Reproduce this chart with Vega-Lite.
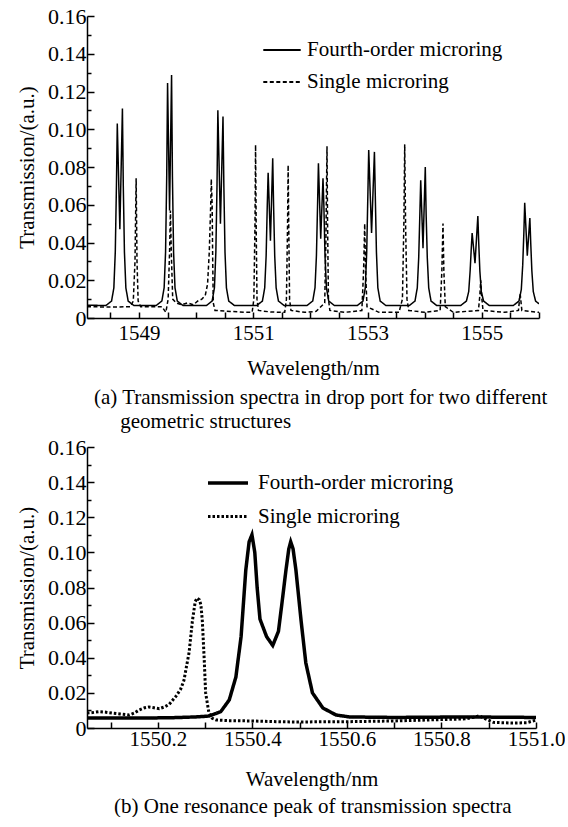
{
 "$schema": "https://vega.github.io/schema/vega-lite/v6.json",
 "padding": {"left": 16, "top": 5, "right": 0, "bottom": 0},
 "autosize": {"type": "pad"},
 "spacing": 4,
 "resolve": {"scale": {"strokeDash": "independent", "strokeWidth": "independent"}, "legend": {"strokeDash": "independent", "strokeWidth": "independent"}},
 "config": {
  "font": "Liberation Serif, Times New Roman, serif",
  "view": {"stroke": null},
  "axis": {"domainColor": "black", "domainWidth": 1.5, "tickColor": "black", "tickWidth": 1.5, "labelColor": "black", "titleColor": "black", "labelFont": "Liberation Serif, Times New Roman, serif", "titleFont": "Liberation Serif, Times New Roman, serif", "labelFontSize": 21, "titleFontSize": 21, "titleFontWeight": "normal", "grid": false, "labelOverlap": false, "labelBound": false, "labelFlush": false},
  "legend": {"labelFont": "Liberation Serif, Times New Roman, serif", "labelFontSize": 21, "labelColor": "black", "labelLimit": 0, "symbolType": "stroke", "symbolStrokeColor": "black", "orient": "none", "title": null},
  "title": {"font": "Liberation Serif, Times New Roman, serif", "fontSize": 21, "fontWeight": "normal", "color": "black", "orient": "bottom", "anchor": "start", "lineHeight": 24, "frame": "group"}
 },
 "vconcat": [
  {
   "width": 452,
   "height": 302,
   "title": {"text": ["(a) Transmission spectra in drop port for two different", "\u200b\u00a0\u00a0\u00a0\u00a0\u00a0geometric structures"], "dx": 7, "offset": 9},
   "data": {"values": [
    {"wl": 1548.09, "t": 0.0068, "series": "Fourth-order microring"},
    {"wl": 1548.42, "t": 0.0066, "series": "Fourth-order microring"},
    {"wl": 1548.52, "t": 0.009, "series": "Fourth-order microring"},
    {"wl": 1548.56, "t": 0.016, "series": "Fourth-order microring"},
    {"wl": 1548.585, "t": 0.035, "series": "Fourth-order microring"},
    {"wl": 1548.605, "t": 0.07, "series": "Fourth-order microring"},
    {"wl": 1548.62, "t": 0.103, "series": "Fourth-order microring"},
    {"wl": 1548.665, "t": 0.047, "series": "Fourth-order microring"},
    {"wl": 1548.71, "t": 0.111, "series": "Fourth-order microring"},
    {"wl": 1548.725, "t": 0.07, "series": "Fourth-order microring"},
    {"wl": 1548.745, "t": 0.035, "series": "Fourth-order microring"},
    {"wl": 1548.77, "t": 0.016, "series": "Fourth-order microring"},
    {"wl": 1548.81, "t": 0.009, "series": "Fourth-order microring"},
    {"wl": 1548.91, "t": 0.0066, "series": "Fourth-order microring"},
    {"wl": 1549.30, "t": 0.0066, "series": "Fourth-order microring"},
    {"wl": 1549.40, "t": 0.009, "series": "Fourth-order microring"},
    {"wl": 1549.44, "t": 0.016, "series": "Fourth-order microring"},
    {"wl": 1549.465, "t": 0.035, "series": "Fourth-order microring"},
    {"wl": 1549.485, "t": 0.075, "series": "Fourth-order microring"},
    {"wl": 1549.50, "t": 0.1245, "series": "Fourth-order microring"},
    {"wl": 1549.535, "t": 0.057, "series": "Fourth-order microring"},
    {"wl": 1549.57, "t": 0.1287, "series": "Fourth-order microring"},
    {"wl": 1549.585, "t": 0.075, "series": "Fourth-order microring"},
    {"wl": 1549.605, "t": 0.035, "series": "Fourth-order microring"},
    {"wl": 1549.63, "t": 0.016, "series": "Fourth-order microring"},
    {"wl": 1549.67, "t": 0.009, "series": "Fourth-order microring"},
    {"wl": 1549.77, "t": 0.0066, "series": "Fourth-order microring"},
    {"wl": 1550.18, "t": 0.0066, "series": "Fourth-order microring"},
    {"wl": 1550.28, "t": 0.009, "series": "Fourth-order microring"},
    {"wl": 1550.32, "t": 0.016, "series": "Fourth-order microring"},
    {"wl": 1550.345, "t": 0.035, "series": "Fourth-order microring"},
    {"wl": 1550.365, "t": 0.07, "series": "Fourth-order microring"},
    {"wl": 1550.38, "t": 0.110, "series": "Fourth-order microring"},
    {"wl": 1550.425, "t": 0.050, "series": "Fourth-order microring"},
    {"wl": 1550.47, "t": 0.1067, "series": "Fourth-order microring"},
    {"wl": 1550.485, "t": 0.07, "series": "Fourth-order microring"},
    {"wl": 1550.505, "t": 0.035, "series": "Fourth-order microring"},
    {"wl": 1550.53, "t": 0.016, "series": "Fourth-order microring"},
    {"wl": 1550.57, "t": 0.009, "series": "Fourth-order microring"},
    {"wl": 1550.67, "t": 0.0066, "series": "Fourth-order microring"},
    {"wl": 1551.06, "t": 0.0066, "series": "Fourth-order microring"},
    {"wl": 1551.16, "t": 0.009, "series": "Fourth-order microring"},
    {"wl": 1551.20, "t": 0.016, "series": "Fourth-order microring"},
    {"wl": 1551.225, "t": 0.033, "series": "Fourth-order microring"},
    {"wl": 1551.245, "t": 0.06, "series": "Fourth-order microring"},
    {"wl": 1551.26, "t": 0.077, "series": "Fourth-order microring"},
    {"wl": 1551.30, "t": 0.041, "series": "Fourth-order microring"},
    {"wl": 1551.34, "t": 0.0846, "series": "Fourth-order microring"},
    {"wl": 1551.355, "t": 0.06, "series": "Fourth-order microring"},
    {"wl": 1551.375, "t": 0.033, "series": "Fourth-order microring"},
    {"wl": 1551.40, "t": 0.016, "series": "Fourth-order microring"},
    {"wl": 1551.44, "t": 0.009, "series": "Fourth-order microring"},
    {"wl": 1551.54, "t": 0.0066, "series": "Fourth-order microring"},
    {"wl": 1551.94, "t": 0.0066, "series": "Fourth-order microring"},
    {"wl": 1552.04, "t": 0.009, "series": "Fourth-order microring"},
    {"wl": 1552.08, "t": 0.016, "series": "Fourth-order microring"},
    {"wl": 1552.105, "t": 0.033, "series": "Fourth-order microring"},
    {"wl": 1552.125, "t": 0.06, "series": "Fourth-order microring"},
    {"wl": 1552.14, "t": 0.082, "series": "Fourth-order microring"},
    {"wl": 1552.18, "t": 0.042, "series": "Fourth-order microring"},
    {"wl": 1552.22, "t": 0.074, "series": "Fourth-order microring"},
    {"wl": 1552.235, "t": 0.06, "series": "Fourth-order microring"},
    {"wl": 1552.255, "t": 0.033, "series": "Fourth-order microring"},
    {"wl": 1552.28, "t": 0.016, "series": "Fourth-order microring"},
    {"wl": 1552.32, "t": 0.009, "series": "Fourth-order microring"},
    {"wl": 1552.42, "t": 0.0066, "series": "Fourth-order microring"},
    {"wl": 1552.82, "t": 0.0066, "series": "Fourth-order microring"},
    {"wl": 1552.92, "t": 0.009, "series": "Fourth-order microring"},
    {"wl": 1552.96, "t": 0.016, "series": "Fourth-order microring"},
    {"wl": 1552.985, "t": 0.035, "series": "Fourth-order microring"},
    {"wl": 1553.005, "t": 0.065, "series": "Fourth-order microring"},
    {"wl": 1553.02, "t": 0.089, "series": "Fourth-order microring"},
    {"wl": 1553.07, "t": 0.045, "series": "Fourth-order microring"},
    {"wl": 1553.12, "t": 0.088, "series": "Fourth-order microring"},
    {"wl": 1553.135, "t": 0.065, "series": "Fourth-order microring"},
    {"wl": 1553.155, "t": 0.035, "series": "Fourth-order microring"},
    {"wl": 1553.18, "t": 0.016, "series": "Fourth-order microring"},
    {"wl": 1553.22, "t": 0.009, "series": "Fourth-order microring"},
    {"wl": 1553.32, "t": 0.0066, "series": "Fourth-order microring"},
    {"wl": 1553.73, "t": 0.0066, "series": "Fourth-order microring"},
    {"wl": 1553.83, "t": 0.009, "series": "Fourth-order microring"},
    {"wl": 1553.87, "t": 0.016, "series": "Fourth-order microring"},
    {"wl": 1553.895, "t": 0.032, "series": "Fourth-order microring"},
    {"wl": 1553.915, "t": 0.055, "series": "Fourth-order microring"},
    {"wl": 1553.93, "t": 0.073, "series": "Fourth-order microring"},
    {"wl": 1553.97, "t": 0.037, "series": "Fourth-order microring"},
    {"wl": 1554.01, "t": 0.080, "series": "Fourth-order microring"},
    {"wl": 1554.025, "t": 0.055, "series": "Fourth-order microring"},
    {"wl": 1554.045, "t": 0.032, "series": "Fourth-order microring"},
    {"wl": 1554.07, "t": 0.016, "series": "Fourth-order microring"},
    {"wl": 1554.11, "t": 0.009, "series": "Fourth-order microring"},
    {"wl": 1554.21, "t": 0.0066, "series": "Fourth-order microring"},
    {"wl": 1554.63, "t": 0.0066, "series": "Fourth-order microring"},
    {"wl": 1554.73, "t": 0.009, "series": "Fourth-order microring"},
    {"wl": 1554.77, "t": 0.014, "series": "Fourth-order microring"},
    {"wl": 1554.795, "t": 0.025, "series": "Fourth-order microring"},
    {"wl": 1554.815, "t": 0.037, "series": "Fourth-order microring"},
    {"wl": 1554.83, "t": 0.045, "series": "Fourth-order microring"},
    {"wl": 1554.88, "t": 0.029, "series": "Fourth-order microring"},
    {"wl": 1554.93, "t": 0.054, "series": "Fourth-order microring"},
    {"wl": 1554.945, "t": 0.04, "series": "Fourth-order microring"},
    {"wl": 1554.965, "t": 0.025, "series": "Fourth-order microring"},
    {"wl": 1554.99, "t": 0.014, "series": "Fourth-order microring"},
    {"wl": 1555.03, "t": 0.009, "series": "Fourth-order microring"},
    {"wl": 1555.13, "t": 0.0066, "series": "Fourth-order microring"},
    {"wl": 1555.55, "t": 0.0066, "series": "Fourth-order microring"},
    {"wl": 1555.65, "t": 0.009, "series": "Fourth-order microring"},
    {"wl": 1555.69, "t": 0.015, "series": "Fourth-order microring"},
    {"wl": 1555.715, "t": 0.028, "series": "Fourth-order microring"},
    {"wl": 1555.735, "t": 0.045, "series": "Fourth-order microring"},
    {"wl": 1555.75, "t": 0.061, "series": "Fourth-order microring"},
    {"wl": 1555.795, "t": 0.033, "series": "Fourth-order microring"},
    {"wl": 1555.84, "t": 0.053, "series": "Fourth-order microring"},
    {"wl": 1555.855, "t": 0.04, "series": "Fourth-order microring"},
    {"wl": 1555.875, "t": 0.025, "series": "Fourth-order microring"},
    {"wl": 1555.90, "t": 0.014, "series": "Fourth-order microring"},
    {"wl": 1555.94, "t": 0.009, "series": "Fourth-order microring"},
    {"wl": 1556.0, "t": 0.0075, "series": "Fourth-order microring"},
    {"wl": 1548.09, "t": 0.006, "series": "Single microring"},
    {"wl": 1548.5, "t": 0.0058, "series": "Single microring"},
    {"wl": 1548.85, "t": 0.006, "series": "Single microring"},
    {"wl": 1548.90, "t": 0.009, "series": "Single microring"},
    {"wl": 1548.93, "t": 0.03, "series": "Single microring"},
    {"wl": 1548.95, "t": 0.074, "series": "Single microring"},
    {"wl": 1548.965, "t": 0.03, "series": "Single microring"},
    {"wl": 1548.985, "t": 0.009, "series": "Single microring"},
    {"wl": 1549.03, "t": 0.006, "series": "Single microring"},
    {"wl": 1549.40, "t": 0.006, "series": "Single microring"},
    {"wl": 1549.47, "t": 0.003, "series": "Single microring"},
    {"wl": 1549.51, "t": 0.01, "series": "Single microring"},
    {"wl": 1549.535, "t": 0.035, "series": "Single microring"},
    {"wl": 1549.55, "t": 0.057, "series": "Single microring"},
    {"wl": 1549.565, "t": 0.035, "series": "Single microring"},
    {"wl": 1549.59, "t": 0.01, "series": "Single microring"},
    {"wl": 1549.65, "t": 0.008, "series": "Single microring"},
    {"wl": 1549.75, "t": 0.007, "series": "Single microring"},
    {"wl": 1549.85, "t": 0.008, "series": "Single microring"},
    {"wl": 1549.95, "t": 0.007, "series": "Single microring"},
    {"wl": 1550.03, "t": 0.009, "series": "Single microring"},
    {"wl": 1550.10, "t": 0.010, "series": "Single microring"},
    {"wl": 1550.16, "t": 0.012, "series": "Single microring"},
    {"wl": 1550.20, "t": 0.018, "series": "Single microring"},
    {"wl": 1550.23, "t": 0.035, "series": "Single microring"},
    {"wl": 1550.255, "t": 0.06, "series": "Single microring"},
    {"wl": 1550.265, "t": 0.0736, "series": "Single microring"},
    {"wl": 1550.28, "t": 0.06, "series": "Single microring"},
    {"wl": 1550.29, "t": 0.03, "series": "Single microring"},
    {"wl": 1550.30, "t": 0.008, "series": "Single microring"},
    {"wl": 1550.33, "t": 0.004, "series": "Single microring"},
    {"wl": 1550.6, "t": 0.0035, "series": "Single microring"},
    {"wl": 1550.85, "t": 0.003, "series": "Single microring"},
    {"wl": 1550.98, "t": 0.003, "series": "Single microring"},
    {"wl": 1551.01, "t": 0.01, "series": "Single microring"},
    {"wl": 1551.03, "t": 0.05, "series": "Single microring"},
    {"wl": 1551.04, "t": 0.0917, "series": "Single microring"},
    {"wl": 1551.05, "t": 0.05, "series": "Single microring"},
    {"wl": 1551.065, "t": 0.01, "series": "Single microring"},
    {"wl": 1551.09, "t": 0.004, "series": "Single microring"},
    {"wl": 1551.3, "t": 0.0032, "series": "Single microring"},
    {"wl": 1551.55, "t": 0.003, "series": "Single microring"},
    {"wl": 1551.58, "t": 0.01, "series": "Single microring"},
    {"wl": 1551.60, "t": 0.05, "series": "Single microring"},
    {"wl": 1551.61, "t": 0.081, "series": "Single microring"},
    {"wl": 1551.62, "t": 0.05, "series": "Single microring"},
    {"wl": 1551.635, "t": 0.01, "series": "Single microring"},
    {"wl": 1551.66, "t": 0.004, "series": "Single microring"},
    {"wl": 1551.9, "t": 0.003, "series": "Single microring"},
    {"wl": 1552.10, "t": 0.0035, "series": "Single microring"},
    {"wl": 1552.25, "t": 0.008, "series": "Single microring"},
    {"wl": 1552.27, "t": 0.04, "series": "Single microring"},
    {"wl": 1552.29, "t": 0.091, "series": "Single microring"},
    {"wl": 1552.30, "t": 0.05, "series": "Single microring"},
    {"wl": 1552.315, "t": 0.01, "series": "Single microring"},
    {"wl": 1552.34, "t": 0.004, "series": "Single microring"},
    {"wl": 1552.6, "t": 0.003, "series": "Single microring"},
    {"wl": 1552.90, "t": 0.004, "series": "Single microring"},
    {"wl": 1552.93, "t": 0.025, "series": "Single microring"},
    {"wl": 1552.95, "t": 0.050, "series": "Single microring"},
    {"wl": 1552.965, "t": 0.025, "series": "Single microring"},
    {"wl": 1552.99, "t": 0.006, "series": "Single microring"},
    {"wl": 1553.2, "t": 0.003, "series": "Single microring"},
    {"wl": 1553.55, "t": 0.003, "series": "Single microring"},
    {"wl": 1553.61, "t": 0.01, "series": "Single microring"},
    {"wl": 1553.635, "t": 0.05, "series": "Single microring"},
    {"wl": 1553.65, "t": 0.092, "series": "Single microring"},
    {"wl": 1553.665, "t": 0.05, "series": "Single microring"},
    {"wl": 1553.69, "t": 0.01, "series": "Single microring"},
    {"wl": 1553.72, "t": 0.004, "series": "Single microring"},
    {"wl": 1554.0, "t": 0.003, "series": "Single microring"},
    {"wl": 1554.27, "t": 0.004, "series": "Single microring"},
    {"wl": 1554.30, "t": 0.025, "series": "Single microring"},
    {"wl": 1554.32, "t": 0.050, "series": "Single microring"},
    {"wl": 1554.335, "t": 0.025, "series": "Single microring"},
    {"wl": 1554.36, "t": 0.006, "series": "Single microring"},
    {"wl": 1554.5, "t": 0.003, "series": "Single microring"},
    {"wl": 1554.94, "t": 0.004, "series": "Single microring"},
    {"wl": 1554.965, "t": 0.012, "series": "Single microring"},
    {"wl": 1554.98, "t": 0.02, "series": "Single microring"},
    {"wl": 1554.995, "t": 0.012, "series": "Single microring"},
    {"wl": 1555.02, "t": 0.004, "series": "Single microring"},
    {"wl": 1555.4, "t": 0.003, "series": "Single microring"},
    {"wl": 1555.64, "t": 0.004, "series": "Single microring"},
    {"wl": 1555.67, "t": 0.013, "series": "Single microring"},
    {"wl": 1555.70, "t": 0.004, "series": "Single microring"},
    {"wl": 1556.0, "t": 0.003, "series": "Single microring"}
   ]},
   "mark": {"type": "line", "color": "black", "strokeWidth": 1.5, "clip": true},
   "encoding": {
    "x": {"field": "wl", "type": "quantitative", "scale": {"domain": [1548.09, 1556], "nice": false, "zero": false},
     "axis": {"title": "Wavelength/nm", "values": [1548.5, 1549, 1549.5, 1550, 1550.5, 1551, 1551.5, 1552, 1552.5, 1553, 1553.5, 1554, 1554.5, 1555, 1555.5, 1556],
      "labelExpr": "datum.value % 2 == 1 ? format(datum.value, 'd') : ''", "tickSize": -6, "labelPadding": 10, "titlePadding": 14}},
    "y": {"field": "t", "type": "quantitative", "scale": {"domain": [0, 0.16], "nice": false},
     "axis": {"title": "Transmission/(a.u.)", "values": [0, 0.01, 0.02, 0.03, 0.04, 0.05, 0.06, 0.07, 0.08, 0.09, 0.1, 0.11, 0.12, 0.13, 0.14, 0.15, 0.16],
      "labelExpr": "round(datum.value*100) % 2 == 0 ? (datum.value == 0 ? '0' : format(datum.value, '.2f')) : ''",
      "tickSize": {"condition": {"test": "round(datum.value*100) % 2 == 0", "value": -7}, "value": -4},
      "labelPadding": 8, "titlePadding": 10, "labelFontSize": 22}},
    "strokeDash": {"field": "series", "type": "nominal",
     "scale": {"domain": ["Fourth-order microring", "Single microring"], "range": [[1, 0], [4, 2.5]]},
     "legend": {"legendX": 175, "legendY": 14, "symbolSize": 1400, "symbolStrokeWidth": 1.8, "labelOffset": 5}}
   }
  },
  {
   "width": 449,
   "height": 281,
   "title": {"text": "(b) One resonance peak of transmission spectra", "dx": 27, "offset": 7},
   "data": {"values": [
    {"wl": 1550.05, "t": 0.0057, "series": "Fourth-order microring"},
    {"wl": 1550.15, "t": 0.0057, "series": "Fourth-order microring"},
    {"wl": 1550.224, "t": 0.0058, "series": "Fourth-order microring"},
    {"wl": 1550.28, "t": 0.0063, "series": "Fourth-order microring"},
    {"wl": 1550.308, "t": 0.0068, "series": "Fourth-order microring"},
    {"wl": 1550.333, "t": 0.0093, "series": "Fourth-order microring"},
    {"wl": 1550.351, "t": 0.016, "series": "Fourth-order microring"},
    {"wl": 1550.365, "t": 0.029, "series": "Fourth-order microring"},
    {"wl": 1550.376, "t": 0.052, "series": "Fourth-order microring"},
    {"wl": 1550.386, "t": 0.090, "series": "Fourth-order microring"},
    {"wl": 1550.393, "t": 0.106, "series": "Fourth-order microring"},
    {"wl": 1550.399, "t": 0.110, "series": "Fourth-order microring"},
    {"wl": 1550.405, "t": 0.100, "series": "Fourth-order microring"},
    {"wl": 1550.41, "t": 0.080, "series": "Fourth-order microring"},
    {"wl": 1550.416, "t": 0.062, "series": "Fourth-order microring"},
    {"wl": 1550.43, "t": 0.052, "series": "Fourth-order microring"},
    {"wl": 1550.443, "t": 0.047, "series": "Fourth-order microring"},
    {"wl": 1550.455, "t": 0.055, "series": "Fourth-order microring"},
    {"wl": 1550.462, "t": 0.070, "series": "Fourth-order microring"},
    {"wl": 1550.471, "t": 0.090, "series": "Fourth-order microring"},
    {"wl": 1550.477, "t": 0.102, "series": "Fourth-order microring"},
    {"wl": 1550.481, "t": 0.106, "series": "Fourth-order microring"},
    {"wl": 1550.486, "t": 0.102, "series": "Fourth-order microring"},
    {"wl": 1550.492, "t": 0.090, "series": "Fourth-order microring"},
    {"wl": 1550.503, "t": 0.061, "series": "Fourth-order microring"},
    {"wl": 1550.513, "t": 0.037, "series": "Fourth-order microring"},
    {"wl": 1550.527, "t": 0.020, "series": "Fourth-order microring"},
    {"wl": 1550.549, "t": 0.0114, "series": "Fourth-order microring"},
    {"wl": 1550.577, "t": 0.0074, "series": "Fourth-order microring"},
    {"wl": 1550.605, "t": 0.0063, "series": "Fourth-order microring"},
    {"wl": 1550.7, "t": 0.006, "series": "Fourth-order microring"},
    {"wl": 1550.8, "t": 0.0062, "series": "Fourth-order microring"},
    {"wl": 1550.9, "t": 0.0062, "series": "Fourth-order microring"},
    {"wl": 1551.0, "t": 0.006, "series": "Fourth-order microring"},
    {"wl": 1550.05, "t": 0.0085, "series": "Single microring"},
    {"wl": 1550.062, "t": 0.0088, "series": "Single microring"},
    {"wl": 1550.075, "t": 0.0093, "series": "Single microring"},
    {"wl": 1550.09, "t": 0.009, "series": "Single microring"},
    {"wl": 1550.103, "t": 0.0085, "series": "Single microring"},
    {"wl": 1550.12, "t": 0.008, "series": "Single microring"},
    {"wl": 1550.139, "t": 0.0074, "series": "Single microring"},
    {"wl": 1550.15, "t": 0.0085, "series": "Single microring"},
    {"wl": 1550.16, "t": 0.0102, "series": "Single microring"},
    {"wl": 1550.172, "t": 0.0115, "series": "Single microring"},
    {"wl": 1550.181, "t": 0.012, "series": "Single microring"},
    {"wl": 1550.192, "t": 0.0115, "series": "Single microring"},
    {"wl": 1550.203, "t": 0.011, "series": "Single microring"},
    {"wl": 1550.214, "t": 0.012, "series": "Single microring"},
    {"wl": 1550.224, "t": 0.0135, "series": "Single microring"},
    {"wl": 1550.238, "t": 0.018, "series": "Single microring"},
    {"wl": 1550.248, "t": 0.022, "series": "Single microring"},
    {"wl": 1550.255, "t": 0.027, "series": "Single microring"},
    {"wl": 1550.266, "t": 0.043, "series": "Single microring"},
    {"wl": 1550.273, "t": 0.061, "series": "Single microring"},
    {"wl": 1550.279, "t": 0.072, "series": "Single microring"},
    {"wl": 1550.283, "t": 0.074, "series": "Single microring"},
    {"wl": 1550.288, "t": 0.073, "series": "Single microring"},
    {"wl": 1550.291, "t": 0.070, "series": "Single microring"},
    {"wl": 1550.294, "t": 0.061, "series": "Single microring"},
    {"wl": 1550.298, "t": 0.039, "series": "Single microring"},
    {"wl": 1550.301, "t": 0.020, "series": "Single microring"},
    {"wl": 1550.308, "t": 0.0085, "series": "Single microring"},
    {"wl": 1550.315, "t": 0.0055, "series": "Single microring"},
    {"wl": 1550.323, "t": 0.0046, "series": "Single microring"},
    {"wl": 1550.35, "t": 0.0042, "series": "Single microring"},
    {"wl": 1550.4, "t": 0.004, "series": "Single microring"},
    {"wl": 1550.45, "t": 0.0036, "series": "Single microring"},
    {"wl": 1550.5, "t": 0.0034, "series": "Single microring"},
    {"wl": 1550.55, "t": 0.0036, "series": "Single microring"},
    {"wl": 1550.6, "t": 0.0036, "series": "Single microring"},
    {"wl": 1550.65, "t": 0.0038, "series": "Single microring"},
    {"wl": 1550.7, "t": 0.004, "series": "Single microring"},
    {"wl": 1550.75, "t": 0.0044, "series": "Single microring"},
    {"wl": 1550.8, "t": 0.0048, "series": "Single microring"},
    {"wl": 1550.85, "t": 0.0052, "series": "Single microring"},
    {"wl": 1550.87, "t": 0.0062, "series": "Single microring"},
    {"wl": 1550.88, "t": 0.007, "series": "Single microring"},
    {"wl": 1550.89, "t": 0.0055, "series": "Single microring"},
    {"wl": 1550.91, "t": 0.0032, "series": "Single microring"},
    {"wl": 1550.95, "t": 0.0028, "series": "Single microring"},
    {"wl": 1550.98, "t": 0.003, "series": "Single microring"},
    {"wl": 1551.0, "t": 0.0045, "series": "Single microring"}
   ]},
   "mark": {"type": "line", "color": "black", "clip": true},
   "encoding": {
    "x": {"field": "wl", "type": "quantitative", "scale": {"domain": [1550.05, 1551.0], "nice": false, "zero": false},
     "axis": {"title": "Wavelength/nm", "values": [1550.1, 1550.2, 1550.3, 1550.4, 1550.5, 1550.6, 1550.7, 1550.8, 1550.9, 1551.0],
      "labelExpr": "round(datum.value*10) % 2 == 0 ? format(datum.value, '.1f') : ''", "tickSize": -6, "labelPadding": 6, "titlePadding": 19}},
    "y": {"field": "t", "type": "quantitative", "scale": {"domain": [0, 0.16], "nice": false},
     "axis": {"title": "Transmission/(a.u.)", "values": [0, 0.01, 0.02, 0.03, 0.04, 0.05, 0.06, 0.07, 0.08, 0.09, 0.1, 0.11, 0.12, 0.13, 0.14, 0.15, 0.16],
      "labelExpr": "round(datum.value*100) % 2 == 0 ? (datum.value == 0 ? '0' : format(datum.value, '.2f')) : ''",
      "tickSize": {"condition": {"test": "round(datum.value*100) % 2 == 0", "value": -7}, "value": -4},
      "labelPadding": 8, "titlePadding": 10, "labelFontSize": 22}},
    "strokeDash": {"field": "series", "type": "nominal",
     "scale": {"domain": ["Fourth-order microring", "Single microring"], "range": [[1, 0], [2.5, 2]]},
     "legend": {"legendX": 119, "legendY": 14, "symbolSize": 1600, "labelOffset": 8}},
    "strokeWidth": {"field": "series", "type": "nominal",
     "scale": {"domain": ["Fourth-order microring", "Single microring"], "range": [3.5, 3]},
     "legend": {"legendX": 119, "legendY": 14, "symbolSize": 1600, "labelOffset": 8}}
   }
  }
 ]
}
